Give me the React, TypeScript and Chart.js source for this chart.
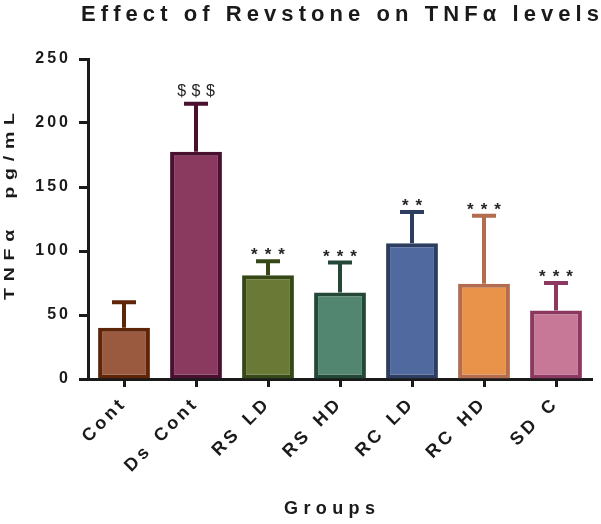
import { useEffect, useRef } from 'react';
import { Chart, registerables } from 'chart.js';

Chart.register(...registerables);

// Groups and TNF-alpha readings (pg/mL), mean with upper SEM whisker
const groups = ['Cont', 'Ds Cont', 'RS LD', 'RS HD', 'RC LD', 'RC HD', 'SD C'];
const meanValues = [40, 177.5, 81, 67.5, 106, 74.5, 53.5];
const errorValues = [20, 37.5, 11, 23.5, 24.5, 53, 21.5];
const significance = ['', '$$$', '***', '***', '**', '***', '***'];
const yTickValues = [0, 50, 100, 150, 200, 250];

const fillColors = ['#995a40', '#8a3a5e', '#6a7a36', '#538670', '#50699e', '#e8924a', '#c77897'];
const edgeColors = ['#5e2509', '#4a1030', '#364818', '#244838', '#2c3d60', '#b36c4e', '#8c3860'];

const FONT = '"Liberation Sans", Arial, Helvetica, sans-serif';
const INK = '#1a1a1a';

// Draws text so that it runs across a given length by widening the letter gaps;
// stretch widens the glyphs along the text direction
function spacedText(
  ctx: CanvasRenderingContext2D,
  text: string,
  x: number,
  y: number,
  font: string,
  span: number,
  angle = 0,
  stretch = 1
) {
  ctx.save();
  ctx.font = font;
  (ctx as any).letterSpacing = '0px';
  const natural = ctx.measureText(text).width * stretch;
  const gap = (span - natural) / (text.length - 1) / stretch;
  (ctx as any).letterSpacing = gap + 'px';
  ctx.translate(x, y);
  ctx.rotate(angle);
  ctx.scale(stretch, 1);
  ctx.textAlign = 'left';
  ctx.textBaseline = 'alphabetic';
  ctx.fillStyle = INK;
  ctx.fillText(text, 0, 0);
  ctx.restore();
}

// Letter spacing for the axis labels: y ticks use the context default,
// the category labels get their own letter and word gaps
const labelSpacing = {
  id: 'labelSpacing',
  beforeUpdate(chart: Chart) {
    (chart.ctx as any).letterSpacing = '3px';
  },
  beforeDraw(chart: Chart) {
    const ctx = chart.ctx as any;
    ctx.letterSpacing = '3px';
    const xs: any = chart.scales.x;
    if (xs && !xs.__spaced) {
      const drawLabels = xs.drawLabels;
      xs.drawLabels = function (area: any) {
        ctx.save();
        ctx.letterSpacing = '3.5px';
        ctx.wordSpacing = '3px';
        drawLabels.call(this, area);
        ctx.restore();
      };
      xs.__spaced = true;
    }
  },
};

const errorBars = {
  id: 'errorBars',
  afterDatasetsDraw(chart: Chart) {
    const ctx = chart.ctx;
    const yScale = chart.scales.y;
    const meta = chart.getDatasetMeta(0);
    meta.data.forEach((bar: any, i: number) => {
      const x = bar.x;
      const base = yScale.getPixelForValue(meanValues[i]);
      const top = yScale.getPixelForValue(meanValues[i] + errorValues[i]);
      ctx.save();
      ctx.strokeStyle = edgeColors[i];
      ctx.lineWidth = 4;
      ctx.lineCap = 'butt';
      ctx.beginPath();
      ctx.moveTo(x, base);
      ctx.lineTo(x, top);
      ctx.moveTo(x - 12, top);
      ctx.lineTo(x + 12, top);
      ctx.stroke();

      const mark = significance[i];
      if (mark) {
        const isDollar = mark.startsWith('$');
        ctx.font = (isDollar ? '16px ' : 'bold 17px ') + FONT;
        const spacing = isDollar ? 5.5 : 7;
        (ctx as any).letterSpacing = spacing + 'px';
        const w = ctx.measureText(mark).width - spacing;
        ctx.fillStyle = '#262626';
        ctx.textAlign = 'left';
        ctx.textBaseline = 'alphabetic';
        ctx.fillText(mark, x - w / 2, top - (isDollar ? 8 : 1));
      }
      ctx.restore();
    });
  },
};

const headings = {
  id: 'headings',
  afterDraw(chart: Chart) {
    const ctx = chart.ctx;
    spacedText(ctx, 'Effect of Revstone on TNFα levels', 81, 21, `bold 22px ${FONT}`, 518);
    spacedText(ctx, 'TNFα  pg/mL', 14, 300, `bold 15px ${FONT}`, 187, -Math.PI / 2, 1.3);
    spacedText(ctx, 'Groups', 284, 514, `bold 18px ${FONT}`, 91);
  },
};

export default function App() {
  const canvasRef = useRef<HTMLCanvasElement>(null);

  useEffect(() => {
    const canvas = canvasRef.current;
    if (!canvas) return;
    const chart = new Chart(canvas, {
      type: 'bar',
      data: {
        labels: groups,
        datasets: [
          {
            data: meanValues,
            backgroundColor: fillColors,
            borderColor: edgeColors,
            borderWidth: 4,
            borderSkipped: false,
            categoryPercentage: 1,
            barPercentage: 0.72,
          },
        ],
      },
      options: {
        responsive: false,
        animation: false,
        devicePixelRatio: 1,
        layout: { padding: { top: 59, right: 9, bottom: 0, left: 0 } },
        plugins: {
          legend: { display: false },
          title: { display: false },
          tooltip: { enabled: false },
        },
        scales: {
          x: {
            z: 1,
            grid: {
              display: true,
              drawOnChartArea: false,
              offset: false,
              tickLength: 8,
              tickWidth: 3,
              tickColor: INK,
            },
            border: { display: true, width: 3, color: INK },
            ticks: {
              autoSkip: false,
              minRotation: 45,
              maxRotation: 45,
              padding: 6,
              color: INK,
              font: { family: FONT, size: 18, weight: 'bold' },
            },
            afterFit: (scale: any) => {
              scale.height = 145;
            },
          },
          y: {
            z: 1,
            min: 0,
            max: 250,
            afterBuildTicks: (scale: any) => {
              scale.ticks = yTickValues.map((v) => ({ value: v }));
            },
            grid: {
              display: true,
              drawOnChartArea: false,
              tickLength: 9,
              tickWidth: 3,
              tickColor: INK,
            },
            border: { display: true, width: 3, color: INK },
            ticks: {
              padding: 8,
              color: INK,
              font: { family: FONT, size: 16, weight: 'bold' },
            },
            afterFit: (scale: any) => {
              scale.width = 88;
            },
          },
        },
      },
      plugins: [labelSpacing, errorBars, headings],
    });
    return () => chart.destroy();
  }, []);

  return (
    <div style={{ position: 'fixed', left: 0, top: 0, width: 601, height: 524, background: '#ffffff' }}>
      <canvas ref={canvasRef} width={601} height={524} style={{ display: 'block' }} />
    </div>
  );
}
